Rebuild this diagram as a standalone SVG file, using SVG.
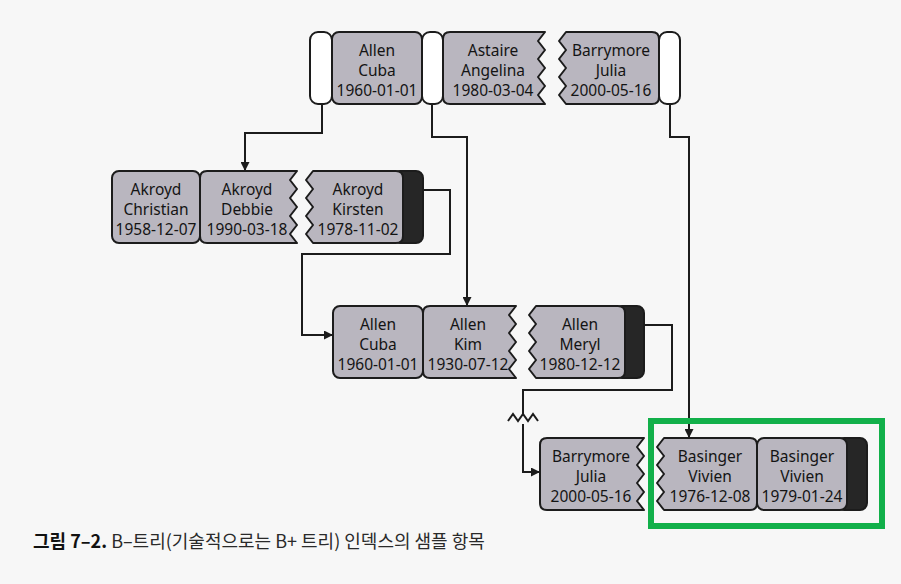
<svg xmlns="http://www.w3.org/2000/svg" width="901" height="584" viewBox="0 0 901 584">
<defs>
<style>
.cell{fill:#b9b6bf;stroke:#1c1c1c;stroke-width:2;stroke-linejoin:round}
.ptr{fill:#ffffff;stroke:#1c1c1c;stroke-width:2}
.cap{fill:#262626;stroke:#1c1c1c;stroke-width:2}
.t{font-family:"Noto Sans","Liberation Sans",sans-serif;font-size:15.5px;fill:#141414;text-anchor:middle}
.ln{fill:none;stroke:#1c1c1c;stroke-width:2}
.cap-t{font-family:"Noto Sans CJK KR","Noto Sans",sans-serif;font-size:18px;fill:#2a2a2a}
</style>
<marker id="ah" viewBox="0 0 10 10" refX="10" refY="5" markerWidth="9" markerHeight="9" markerUnits="userSpaceOnUse" orient="auto">
<path d="M0,0 L10,5 L0,10 Z" fill="#1c1c1c"/>
</marker>
</defs>
<rect width="901" height="584" fill="#f7f7f7"/>

<g id="connectors">
<path class="ln" d="M322,104 V133 H245 V171" marker-end="url(#ah)"/>
<path class="ln" d="M432,104 V137 H467 V306" marker-end="url(#ah)"/>
<path class="ln" d="M670,104 V137 H689 V438" marker-end="url(#ah)"/>
<path class="ln" d="M423,190 H450 V254 H302 V335 H333" marker-end="url(#ah)"/>
<path class="ln" d="M644,325 H672 V390 H523 V414"/>
<path class="ln" d="M508,421 L513,414 L518,421 L523,414 L528,421 L533,414 L538,421"/>
<path class="ln" d="M523,424 V472 H540" marker-end="url(#ah)"/>
</g>

<g id="root">
<rect class="ptr" x="310" y="32" width="22" height="72" rx="8"/>
<rect class="cell" x="332" y="32" width="90" height="72" rx="7"/>
<rect class="ptr" x="422" y="32" width="21" height="72" rx="8"/>
<path class="cell" d="M450,32 L545,32 L538,41 L545,50 L538,59 L545,68 L538,77 L545,86 L538,95 L545,104 L450,104 Q443,104 443,97 L443,39 Q443,32 450,32 Z"/>
<path class="cell" d="M566,32 L652,32 Q659,32 659,39 L659,97 Q659,104 652,104 L566,104 L559,95 L566,86 L559,77 L566,68 L559,59 L566,50 L559,41 Z"/>
<rect class="ptr" x="659" y="32" width="21" height="72" rx="8"/>
<text class="t" x="377" y="56">Allen</text>
<text class="t" x="377" y="76">Cuba</text>
<text class="t" x="377" y="96">1960-01-01</text>
<text class="t" x="493" y="56">Astaire</text>
<text class="t" x="493" y="76">Angelina</text>
<text class="t" x="493" y="96">1980-03-04</text>
<text class="t" x="611" y="56">Barrymore</text>
<text class="t" x="611" y="76">Julia</text>
<text class="t" x="611" y="96">2000-05-16</text>
</g>

<g id="leaf-akroyd">
<rect class="cap" x="393" y="171" width="30" height="72" rx="7"/>
<rect class="cell" x="112" y="171" width="88" height="72" rx="7"/>
<path class="cell" d="M207,171 L297,171 L290,180 L297,189 L290,198 L297,207 L290,216 L297,225 L290,234 L297,243 L207,243 Q200,243 200,236 L200,178 Q200,171 207,171 Z"/>
<path class="cell" d="M313,171 L396,171 Q403,171 403,178 L403,236 Q403,243 396,243 L313,243 L306,234 L313,225 L306,216 L313,207 L306,198 L313,189 L306,180 Z"/>
<text class="t" x="156" y="195">Akroyd</text>
<text class="t" x="156" y="215">Christian</text>
<text class="t" x="156" y="235">1958-12-07</text>
<text class="t" x="247" y="195">Akroyd</text>
<text class="t" x="247" y="215">Debbie</text>
<text class="t" x="247" y="235">1990-03-18</text>
<text class="t" x="358" y="195">Akroyd</text>
<text class="t" x="358" y="215">Kirsten</text>
<text class="t" x="358" y="235">1978-11-02</text>
</g>

<g id="leaf-allen">
<rect class="cap" x="615" y="306" width="29" height="72" rx="7"/>
<rect class="cell" x="333" y="306" width="90" height="72" rx="7"/>
<path class="cell" d="M430,306 L516,306 L509,315 L516,324 L509,333 L516,342 L509,351 L516,360 L509,369 L516,378 L430,378 Q423,378 423,371 L423,313 Q423,306 430,306 Z"/>
<path class="cell" d="M536,306 L618,306 Q625,306 625,313 L625,371 Q625,378 618,378 L536,378 L529,369 L536,360 L529,351 L536,342 L529,333 L536,324 L529,315 Z"/>
<text class="t" x="378" y="330">Allen</text>
<text class="t" x="378" y="350">Cuba</text>
<text class="t" x="378" y="370">1960-01-01</text>
<text class="t" x="468" y="330">Allen</text>
<text class="t" x="468" y="350">Kim</text>
<text class="t" x="468" y="370">1930-07-12</text>
<text class="t" x="580" y="330">Allen</text>
<text class="t" x="580" y="350">Meryl</text>
<text class="t" x="580" y="370">1980-12-12</text>
</g>

<g id="leaf-basinger">
<rect class="cap" x="837" y="438" width="30" height="72" rx="7"/>
<path class="cell" d="M547,438 L644,438 L637,447 L644,456 L637,465 L644,474 L637,483 L644,492 L637,501 L644,510 L547,510 Q540,510 540,503 L540,445 Q540,438 547,438 Z"/>
<path class="cell" d="M664,438 L750,438 Q757,438 757,445 L757,503 Q757,510 750,510 L664,510 L657,501 L664,492 L657,483 L664,474 L657,465 L664,456 L657,447 Z"/>
<rect class="cell" x="757" y="438" width="90" height="72" rx="7"/>
<text class="t" x="591" y="462">Barrymore</text>
<text class="t" x="591" y="482">Julia</text>
<text class="t" x="591" y="502">2000-05-16</text>
<text class="t" x="710" y="462">Basinger</text>
<text class="t" x="710" y="482">Vivien</text>
<text class="t" x="710" y="502">1976-12-08</text>
<text class="t" x="802" y="462">Basinger</text>
<text class="t" x="802" y="482">Vivien</text>
<text class="t" x="802" y="502">1979-01-24</text>
</g>

<g id="highlight">
<rect x="651" y="421" width="231" height="105" fill="none" stroke="#12b04a" stroke-width="6"/>
</g>

<g id="caption">
<text class="cap-t" x="33" y="548"><tspan font-weight="bold" fill="#111">그림 7–2.</tspan> B–트리(기술적으로는 B+ 트리) 인덱스의 샘플 항목</text>
</g>
</svg>
